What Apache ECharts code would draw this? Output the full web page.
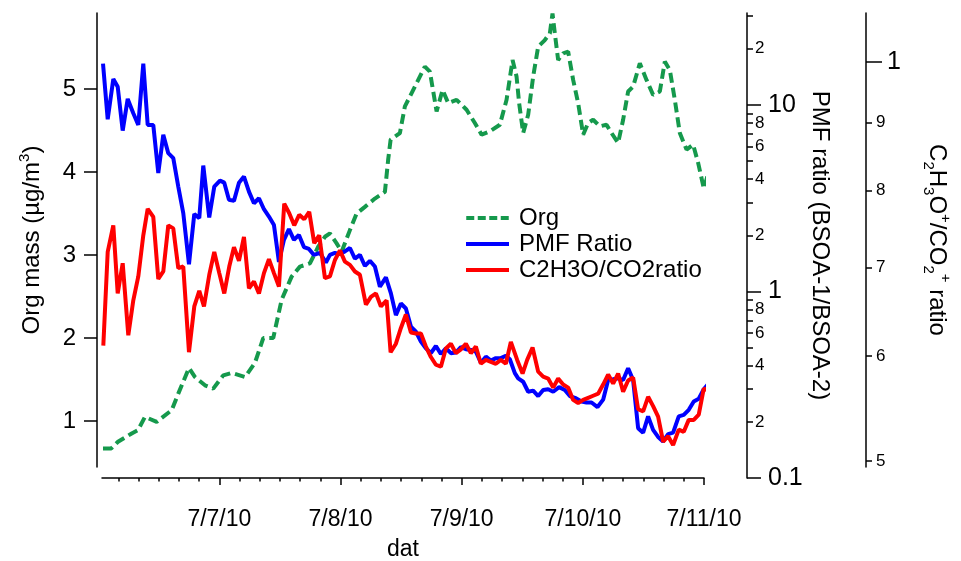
<!DOCTYPE html>
<html><head><meta charset="utf-8">
<script src="https://cdn.jsdelivr.net/npm/echarts@6/dist/echarts.min.js"></script>
<style>html,body{margin:0;padding:0;background:#fff}#c{width:961px;height:561px}</style>
</head><body><div id="c"></div>
<script>
// x values: hours since 7/6/10 00:00
const orgHours=[0.95,2.59,3.92,6.63,7.88,9.26,11.58,14.55,15.86,17.98,19.17,21.15,22.79,24.77,26.42,29.07,31.04,32.69,34.67,36.33,38.31,39.96,41.94,43.58,44.91,45.9,47.23,48.22,49.86,51.19,52.83,54.81,56.79,57.44,57.92,59.76,60.75,61.74,63.07,64.71,65.7,67.03,68.22,69.33,70.99,72.97,74.61,75.94,77.58,79.56,80.89,82.08,82.87,83.38,84.18,85.17,86.16,87.15,88.47,89.46,89.99,90.45,91.11,92.1,93.09,94.08,95.07,96.06,97.05,98.04,99.36,100.69,101.68,102.99,103.98,104.97,105.96,107.29,108.61,109.92,111.25,112.24,113.23,114.22,115.21,116.54,117.85,118.84,119.97,120.82];
const orgMass=[0.67,0.67,0.75,0.85,0.89,1.05,0.99,1.13,1.33,1.64,1.53,1.43,1.39,1.55,1.58,1.53,1.70,2.00,2.00,2.46,2.74,2.86,2.90,3.10,3.22,3.26,3.14,3.04,3.30,3.50,3.58,3.68,3.76,4.15,4.39,4.47,4.79,4.91,5.07,5.27,5.21,4.73,4.99,4.83,4.87,4.75,4.59,4.45,4.49,4.57,4.87,5.35,5.15,4.83,4.47,4.69,5.15,5.51,5.59,5.67,5.91,5.67,5.35,5.43,5.45,5.11,4.83,4.45,4.59,4.63,4.55,4.57,4.47,4.35,4.63,4.97,5.03,5.31,5.11,4.93,4.97,5.33,5.23,4.87,4.47,4.27,4.33,4.11,3.80,3.98];

const pmfHours=[0.95,1.88,2.99,3.86,4.85,5.84,6.95,7.94,8.93,9.8,10.91,11.9,12.89,13.88,14.87,15.86,16.85,17.98,19.03,20.02,20.81,21.99,22.99,24.12,24.97,25.9,26.89,27.88,28.87,29.86,30.85,31.84,32.83,33.82,34.81,35.8,36.79,37.78,38.77,39.76,40.75,41.74,42.73,43.92,45.11,45.9,46.89,47.88,48.87,49.86,50.85,51.84,52.83,53.82,54.81,55.8,56.99,57.98,58.97,59.96,60.95,61.94,62.93,63.92,64.91,65.9,66.89,67.88,68.87,69.86,70.85,71.84,72.83,73.82,74.81,75.8,76.79,77.78,78.77,79.76,80.75,81.54,82.53,83.19,84.18,85.17,86.16,87.15,88.14,89.13,90.12,91.3,92.43,93.42,94.61,95.74,96.73,97.72,98.91,100.02,101.01,102.0,102.99,103.98,104.97,105.96,106.95,107.94,108.93,109.92,110.91,111.9,112.89,113.88,115.0,115.99,116.98,117.97,118.96,119.95,120.94];
const pmfRatio=[16.64,8.38,13.77,12.51,7.28,10.77,9.03,7.81,16.64,7.81,7.81,4.31,6.91,5.51,5.18,3.65,2.63,1.40,2.60,2.47,4.73,2.49,3.65,3.93,3.83,3.10,3.06,3.83,4.13,3.43,2.97,3.16,2.76,2.52,2.27,1.44,1.89,2.16,1.89,2.01,1.73,1.69,1.57,1.61,1.43,1.57,1.61,1.59,1.64,1.71,1.50,1.57,1.37,1.46,1.36,1.06,1.19,0.977,0.747,0.862,0.810,0.648,0.609,0.539,0.496,0.467,0.510,0.462,0.496,0.467,0.470,0.503,0.490,0.486,0.476,0.415,0.447,0.426,0.439,0.439,0.452,0.433,0.365,0.342,0.328,0.290,0.294,0.275,0.296,0.299,0.290,0.307,0.296,0.275,0.268,0.257,0.254,0.254,0.240,0.263,0.335,0.338,0.342,0.335,0.388,0.335,0.185,0.175,0.214,0.181,0.166,0.157,0.172,0.175,0.214,0.218,0.232,0.257,0.266,0.299,0.322];

const c2Hours=[1.01,1.88,2.99,3.86,4.85,5.96,6.95,7.94,8.93,9.8,10.91,11.9,12.89,13.88,14.87,15.86,16.85,17.98,19.03,20.02,20.95,22.0,22.99,23.98,24.97,25.96,26.89,27.88,28.87,29.86,30.85,31.84,32.83,33.82,34.81,35.8,36.85,37.84,38.83,39.82,40.81,41.8,42.79,43.78,44.91,45.9,46.89,47.88,48.87,49.86,50.85,51.84,53.03,54.02,55.01,56.0,57.13,57.92,58.97,59.96,60.95,61.94,62.93,63.92,64.91,65.9,66.89,67.88,68.87,69.86,70.85,71.84,72.83,73.82,74.81,75.8,76.79,77.78,78.77,79.76,80.75,81.74,82.99,84.06,84.97,86.04,87.15,88.14,89.13,90.12,91.11,92.1,93.09,94.08,95.07,96.06,97.05,98.04,99.03,100.02,101.01,102.0,102.99,103.98,104.97,105.96,106.95,107.94,108.93,109.92,110.91,111.9,112.89,113.88,115.0,115.99,116.98,117.97,118.96,119.95,120.94];
const c2Ratio=[0.611,0.719,0.753,0.669,0.705,0.622,0.661,0.689,0.740,0.775,0.764,0.686,0.695,0.753,0.749,0.699,0.701,0.604,0.654,0.672,0.654,0.691,0.719,0.693,0.669,0.701,0.725,0.708,0.738,0.675,0.683,0.669,0.693,0.710,0.693,0.677,0.782,0.769,0.753,0.767,0.761,0.771,0.730,0.740,0.687,0.689,0.709,0.721,0.707,0.703,0.695,0.691,0.656,0.665,0.669,0.654,0.661,0.604,0.613,0.630,0.645,0.625,0.624,0.624,0.610,0.599,0.591,0.589,0.608,0.613,0.603,0.607,0.613,0.603,0.610,0.592,0.596,0.594,0.592,0.596,0.592,0.615,0.596,0.582,0.596,0.609,0.584,0.579,0.577,0.568,0.577,0.571,0.568,0.556,0.553,0.556,0.558,0.560,0.562,0.571,0.581,0.572,0.582,0.564,0.575,0.578,0.547,0.545,0.559,0.550,0.540,0.517,0.522,0.514,0.528,0.526,0.537,0.537,0.542,0.567,0.565];

// ticks and labels
const dateTicks=[24,48,72,96,120];
const dateLabels=['7/7/10','7/8/10','7/9/10','7/10/10','7/11/10'];
const hourMinorTicks=[4,8,12,16,20,28,32,36,40,44,52,56,60,64,68,76,80,84,88,92,100,104,108,112,116];
const orgTicks=[1,2,3,4,5];
const pmfMajor=[0.1,1,10];
const pmfMinor=[0.2,0.3,0.4,0.5,0.6,0.7,0.8,0.9,2,3,4,5,6,7,8,9,20,30];
const pmfMinorLabeled=[0.2,0.4,0.6,0.8,2,4,6,8,20];
const c2Major=[1];
const c2Minor=[0.5,0.6,0.7,0.8,0.9];
const legendNames=['Org','PMF Ratio','C2H3O/CO2ratio'];

const L=Math.log10;
const FONT='"Liberation Sans", Arial, Helvetica, sans-serif';
const BLACK='#000';
const GREEN='#15994c';
const lineS={color:BLACK,width:1.5};
function digit(v){const x=Math.pow(10,v);const e=Math.floor(v+1e-9);return String(Math.round(x/Math.pow(10,e)));}
function bigLab(v){const x=Math.pow(10,v);return x<0.99?x.toFixed(1):String(Math.round(x));}
const solidIcon='path://M0,0H43V4H0Z';
const dashIcon='path://M0,0H8V4H0Z M11.5,0H19.5V4H11.5Z M23,0H31V4H23Z M34.5,0H42.5V4H34.5Z';
const PMF_MIN=-1, PMF_MAX=L(31.1);

const chart=echarts.init(document.getElementById('c'),null,{renderer:'canvas'});
const opt={
  animation:false,
  backgroundColor:'#fff',
  textStyle:{fontFamily:FONT,color:BLACK},
  grid:[
    {left:102,top:13,width:602,height:454,containLabel:false,outerBoundsMode:'none'},
    {left:102,top:13,width:602,height:465,containLabel:false,outerBoundsMode:'none'}
  ],
  legend:{data:[{name:legendNames[0],icon:dashIcon},{name:legendNames[1],icon:solidIcon},{name:legendNames[2],icon:solidIcon}],
    orient:'vertical',left:466,top:206,itemWidth:43,itemHeight:4,itemGap:2,padding:0,
    textStyle:{fontSize:24,color:BLACK,fontFamily:FONT,padding:[0,0,0,5]}},
  xAxis:[
    {type:'value',gridIndex:0,min:0.75,max:120,position:'bottom',offset:11,
     axisLine:{onZero:false,lineStyle:lineS},
     axisTick:{show:true,customValues:dateTicks,length:7,lineStyle:lineS},
     axisLabel:{customValues:dateTicks,formatter:v=>dateLabels[dateTicks.indexOf(Math.round(v))],fontSize:23,color:BLACK,fontFamily:FONT,margin:30},
     splitLine:{show:false},
     name:'dat',nameLocation:'middle',nameGap:60,nameTextStyle:{fontSize:23,color:BLACK,fontFamily:FONT}},
    {type:'value',gridIndex:0,min:0.75,max:120,position:'bottom',offset:11,
     axisLine:{show:false,onZero:false},
     axisTick:{show:true,customValues:hourMinorTicks,length:3.5,lineStyle:lineS},
     axisLabel:{show:false},splitLine:{show:false}},
    {type:'value',gridIndex:1,min:0.75,max:120,show:false}
  ],
  yAxis:[
    {type:'value',gridIndex:0,position:'left',offset:5,min:0.446,max:5.916,
     axisLine:{show:true,onZero:false,lineStyle:lineS},
     axisTick:{show:true,customValues:orgTicks,length:13,lineStyle:lineS},
     axisLabel:{customValues:orgTicks,margin:21,fontSize:24,color:BLACK,fontFamily:FONT},
     splitLine:{show:false},
     name:'Org mass (µg/m{sup|3})',nameLocation:'middle',nameGap:50,
     nameTextStyle:{fontSize:24,color:BLACK,fontFamily:FONT,lineHeight:30,
       rich:{sup:{fontSize:15,verticalAlign:'top',lineHeight:30,fontFamily:FONT,color:BLACK}}}},
    {type:'value',gridIndex:1,position:'right',offset:43,min:PMF_MIN,max:PMF_MAX,
     axisLine:{show:true,onZero:false,lineStyle:lineS},
     axisTick:{show:true,customValues:pmfMinor.map(L),length:6,lineStyle:lineS},
     axisLabel:{customValues:pmfMinorLabeled.map(L),formatter:digit,margin:8,fontSize:17,color:BLACK,fontFamily:FONT},
     splitLine:{show:false},
     name:'PMF ratio (BSOA-1/BSOA-2)',nameLocation:'middle',nameRotate:-90,nameGap:61,
     nameTextStyle:{fontSize:24,color:BLACK,fontFamily:FONT}},
    {type:'value',gridIndex:1,position:'right',offset:43,min:PMF_MIN,max:PMF_MAX,
     axisLine:{show:false,onZero:false},
     axisTick:{show:true,customValues:pmfMajor.map(L),length:14,lineStyle:lineS},
     axisLabel:{customValues:pmfMajor.map(L),formatter:bigLab,margin:21,fontSize:25,color:BLACK,fontFamily:FONT},
     splitLine:{show:false}},
    {type:'value',gridIndex:0,position:'right',offset:162,min:L(0.4948),max:L(1.089),
     axisLine:{show:true,onZero:false,lineStyle:lineS},
     axisTick:{show:true,customValues:c2Minor.map(L),length:6,lineStyle:lineS},
     axisLabel:{customValues:c2Minor.map(L),formatter:digit,margin:10,fontSize:17,color:BLACK,fontFamily:FONT},
     splitLine:{show:false},
     name:'C{sub|2}H{sub|3}O{sup|+}/CO{sub|2}{sup|+} ratio',nameLocation:'middle',nameRotate:-90,nameGap:55,
     nameTextStyle:{fontSize:24,color:BLACK,fontFamily:FONT,lineHeight:32,
       rich:{sub:{fontSize:15,verticalAlign:'bottom',lineHeight:32,fontFamily:FONT,color:BLACK},
             sup:{fontSize:15,verticalAlign:'top',lineHeight:32,fontFamily:FONT,color:BLACK}}}},
    {type:'value',gridIndex:0,position:'right',offset:162,min:L(0.4948),max:L(1.089),
     axisLine:{show:false,onZero:false},
     axisTick:{show:true,customValues:c2Major.map(L),length:16,lineStyle:lineS},
     axisLabel:{customValues:c2Major.map(L),formatter:bigLab,margin:21,fontSize:25,color:BLACK,fontFamily:FONT},
     splitLine:{show:false}}
  ],
  series:[
    {name:'Org',type:'line',xAxisIndex:0,yAxisIndex:0,symbol:'none',clip:false,
     data:orgHours.map((h,i)=>[h,orgMass[i]]),
     color:GREEN,itemStyle:{color:GREEN},lineStyle:{color:GREEN,width:4,type:[10,5]}},
    {name:'PMF Ratio',type:'line',xAxisIndex:2,yAxisIndex:1,symbol:'none',clip:false,
     data:pmfHours.map((h,i)=>[h,L(pmfRatio[i])]),
     color:'#0000ff',itemStyle:{color:'#0000ff'},lineStyle:{color:'#0000ff',width:4}},
    {name:'C2H3O/CO2ratio',type:'line',xAxisIndex:0,yAxisIndex:3,symbol:'none',clip:false,
     data:c2Hours.map((h,i)=>[h,L(c2Ratio[i])]),
     color:'#ff0000',itemStyle:{color:'#ff0000'},lineStyle:{color:'#ff0000',width:4}}
  ]
};
chart.setOption(opt);
</script></body></html>
